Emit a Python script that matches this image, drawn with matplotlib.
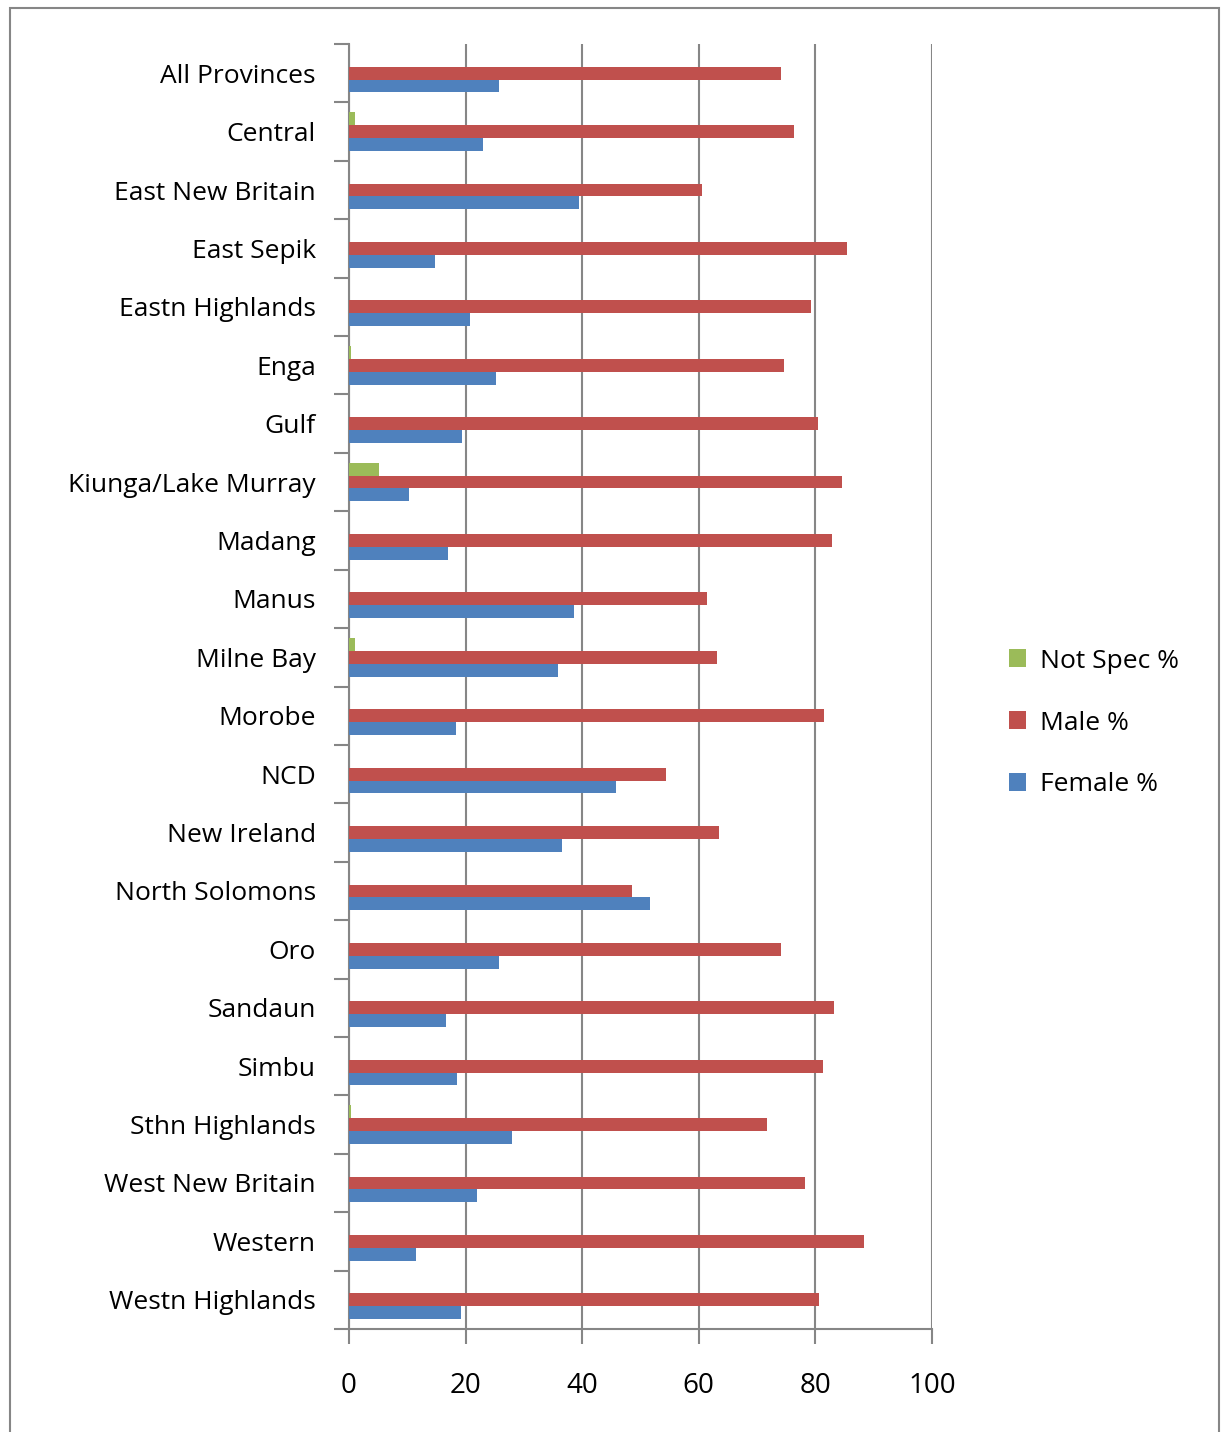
import numpy as np
import matplotlib.pyplot as plt
from matplotlib.patches import Rectangle

plt.rcParams['font.family'] = ['Open Sans', 'DejaVu Sans']

provinces = ['All Provinces', 'Central', 'East New Britain', 'East Sepik',
             'Eastn Highlands', 'Enga', 'Gulf', 'Kiunga/Lake Murray', 'Madang',
             'Manus', 'Milne Bay', 'Morobe', 'NCD', 'New Ireland',
             'North Solomons', 'Oro', 'Sandaun', 'Simbu', 'Sthn Highlands',
             'West New Britain', 'Western', 'Westn Highlands']

female = [25.7, 23.0, 39.5, 14.8, 20.8, 25.2, 19.4, 10.3, 17.0, 38.6, 35.8,
          18.4, 45.8, 36.5, 51.6, 25.7, 16.6, 18.5, 28.0, 22.0, 11.5, 19.2]
male = [74.1, 76.3, 60.5, 85.4, 79.2, 74.6, 80.4, 84.6, 82.8, 61.4, 63.1,
        81.5, 54.4, 63.5, 48.5, 74.1, 83.2, 81.3, 71.7, 78.2, 88.3, 80.6]
not_spec = [0.0, 1.0, 0.0, 0.0, 0.0, 0.3, 0.0, 5.1, 0.0, 0.0, 1.0,
            0.0, 0.0, 0.0, 0.0, 0.0, 0.0, 0.0, 0.3, 0.0, 0.0, 0.0]

BLUE, RED, GREEN = '#4F81BD', '#C0504D', '#9BBB59'
GRID = '#868686'

fig = plt.figure(figsize=(12.21, 14.32), dpi=100)
ax = fig.add_axes([349 / 1221, 1 - 1329 / 1432, 583 / 1221, 1285 / 1432])

y = np.arange(len(provinces))
h = 0.22
ax.barh(y - h, not_spec, height=h, color=GREEN, label='Not Spec %', zorder=3)
ax.barh(y, male, height=h, color=RED, label='Male %', zorder=3)
ax.barh(y + h, female, height=h, color=BLUE, label='Female %', zorder=3)

ax.set_xlim(0, 100)
ax.set_ylim(len(provinces) - 0.5, -0.5)

# category labels and separator ticks
ax.set_yticks(y)
ax.set_yticklabels(provinces, fontsize=19)
ax.set_yticks(np.arange(len(provinces) + 1) - 0.5, minor=True)
ax.tick_params(axis='y', which='major', length=0, pad=24)
ax.tick_params(axis='y', which='minor', length=11, width=1.5, color=GRID)

ax.set_xticks(np.arange(0, 101, 20))
ax.tick_params(axis='x', length=11, width=1.5, color=GRID, labelsize=20, pad=20)
ax.grid(axis='x', color=GRID, lw=1.5, zorder=0)

for s in ['top', 'right']:
    ax.spines[s].set_visible(False)
for s in ['left', 'bottom']:
    ax.spines[s].set_color(GRID)
    ax.spines[s].set_linewidth(1.5)

handles, labels = ax.get_legend_handles_labels()
fig.legend(handles, labels, loc='center left', bbox_to_anchor=(985 / 1221, 1 - 723 / 1432),
           frameon=False, fontsize=19, handlelength=0.65, handleheight=0.65,
           labelspacing=1.4, handletextpad=0.55)

# outer chart frame
fig.patches.append(Rectangle((10 / 1221, -0.01), 1209 / 1221, 1 - 8 / 1432 + 0.01,
                             transform=fig.transFigure, fill=False,
                             edgecolor=GRID, lw=1.5))

fig.savefig('out.png', dpi=100)
